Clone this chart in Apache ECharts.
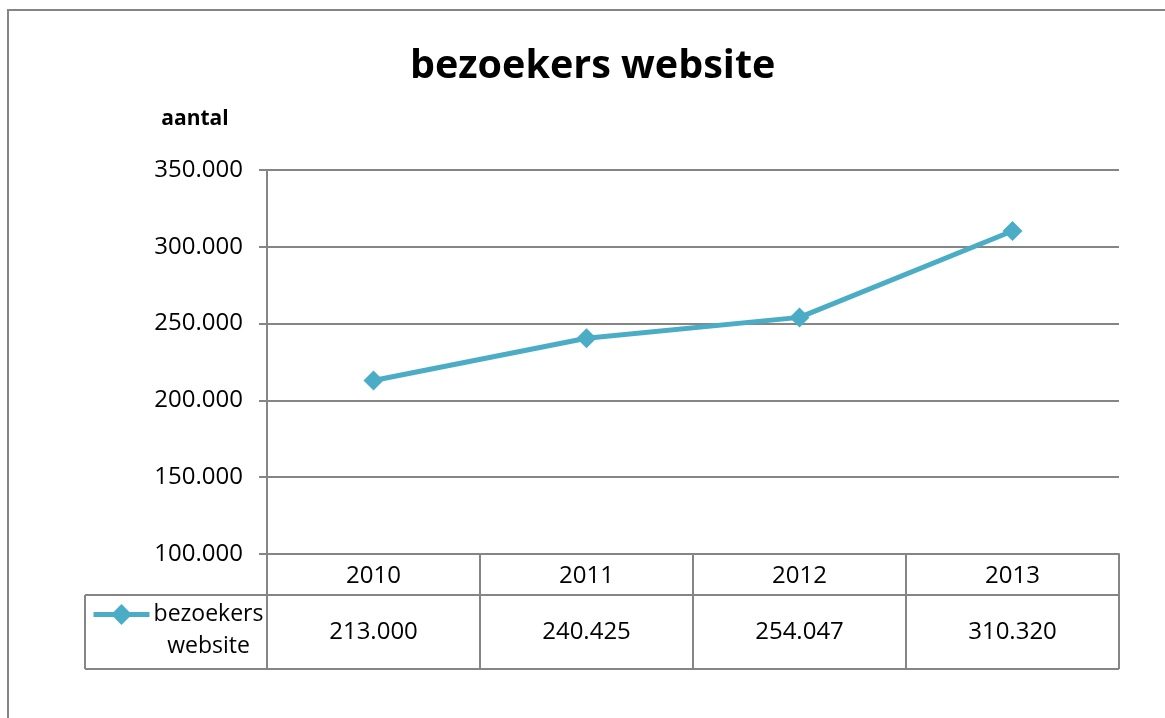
<!DOCTYPE html>
<html>
<head>
<meta charset="utf-8">
<script src="https://cdn.jsdelivr.net/npm/echarts@6/dist/echarts.min.js"></script>
<style>
  html, body { margin: 0; padding: 0; background: #fff; }
  #chart { width: 1165px; height: 718px; }
</style>
</head>
<body>
<div id="chart"></div>
<script>
// data
const years = ['2010', '2011', '2012', '2013']
const visitors = [213000, 240425, 254047, 310320]
const seriesName = 'bezoekers website'

const fmt = v => v.toLocaleString('de-DE', { minimumFractionDigits: 0 })
const font = 'Open Sans'
const gray = '#858585'
const blue = '#4BACC6'

const gridLeft = 267, gridRight = 1119, gridTop = 170, gridBottom = 554
const row1 = 595, row2 = 669, tableLeft = 85

const chart = echarts.init(document.getElementById('chart'))
chart.setOption({
  animation: false,
  textStyle: { fontFamily: font },
  title: {
    text: 'bezoekers website',
    left: 405,
    top: 42,
    textStyle: { fontSize: 39.5, fontWeight: 'bold', color: '#000', fontFamily: font }
  },
  grid: {
    left: gridLeft,
    right: 1165 - gridRight,
    top: gridTop,
    bottom: 718 - gridBottom
  },
  legend: {
    left: 91,
    top: 603,
    itemWidth: 56,
    itemHeight: 26,
    itemGap: 0,
    padding: 0,
    lineStyle: { width: 5 },
    formatter: () => '{a|bezoekers}\n{a|website}',
    textStyle: {
      padding: [32, 0, 0, 0],
      rich: { a: { fontSize: 23, lineHeight: 32, color: '#000', width: 108, align: 'center', fontFamily: font } }
    },
    data: [seriesName]
  },
  xAxis: [{
    type: 'category',
    data: years,
    axisLine: { lineStyle: { color: gray, width: 2 } },
    axisTick: { show: true, inside: false, length: row2 - gridBottom, lineStyle: { color: gray, width: 2 } },
    axisLabel: { fontSize: 24, color: '#000', margin: 10 }
  }, {
    type: 'category',
    data: visitors.map(fmt),
    position: 'bottom',
    offset: row1 - gridBottom,
    axisLine: { show: false },
    axisTick: { show: false },
    axisLabel: { fontSize: 24, color: '#000', margin: 25 }
  }],
  yAxis: {
    type: 'value',
    min: 100000,
    max: 350000,
    interval: 50000,
    name: 'aantal',
    nameLocation: 'end',
    nameGap: 40,
    nameTextStyle: { fontSize: 21, fontWeight: 'bold', color: '#000', padding: [0, 144, 0, 0] },
    axisLine: { show: true, lineStyle: { color: gray, width: 2 } },
    axisTick: { show: true, inside: false, length: 8, lineStyle: { color: gray, width: 2 } },
    axisLabel: { fontSize: 24, color: '#000', margin: 24, formatter: fmt },
    splitLine: { lineStyle: { color: gray, width: 2 } }
  },
  series: [{
    name: seriesName,
    type: 'line',
    data: visitors,
    symbol: 'diamond',
    symbolSize: 20,
    lineStyle: { color: blue, width: 5 },
    itemStyle: { color: blue }
  }],
  graphic: [
    { type: 'rect', shape: { x: 8, y: 10, width: 1300, height: 900 }, style: { fill: 'none', stroke: gray, lineWidth: 2 }, silent: true },
    { type: 'line', shape: { x1: tableLeft, y1: row1, x2: gridRight, y2: row1 }, style: { stroke: gray, lineWidth: 2 } },
    { type: 'line', shape: { x1: tableLeft, y1: row2, x2: gridRight, y2: row2 }, style: { stroke: gray, lineWidth: 2 } },
    { type: 'line', shape: { x1: tableLeft, y1: row1, x2: tableLeft, y2: row2 }, style: { stroke: gray, lineWidth: 2 } }
  ]
})
</script>
</body>
</html>
